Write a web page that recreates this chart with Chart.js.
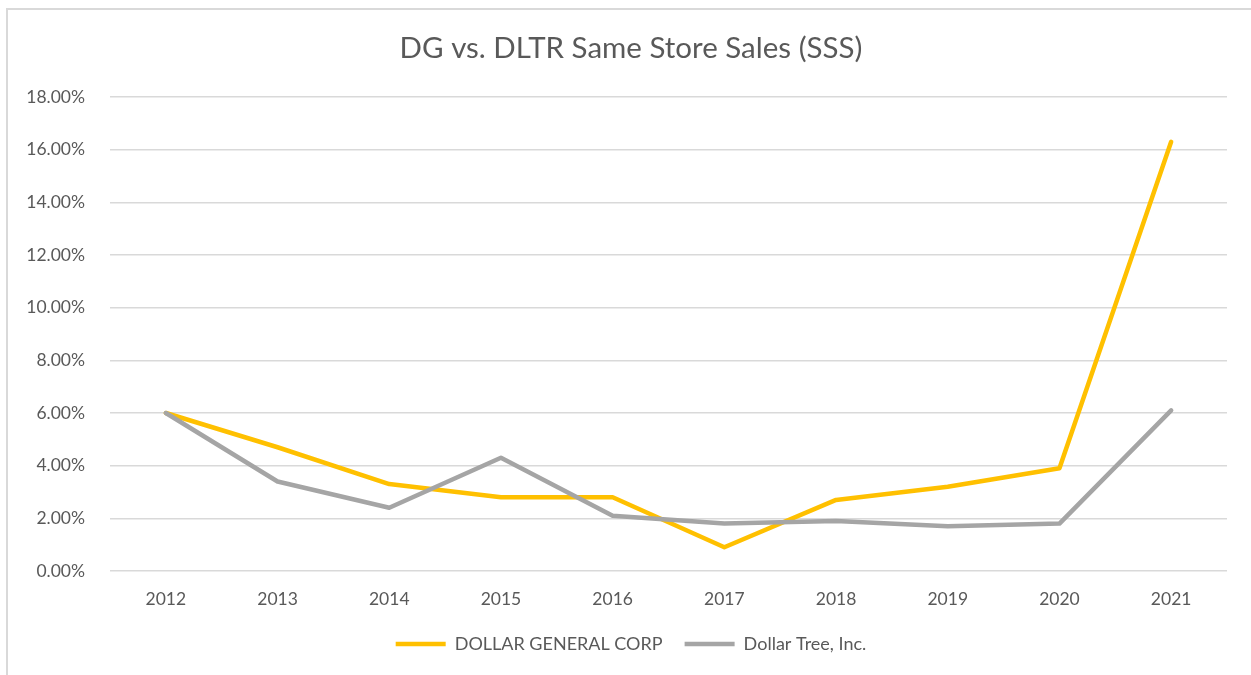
<!DOCTYPE html>
<html>
<head>
<meta charset="utf-8">
<script src="https://cdn.jsdelivr.net/npm/chart.js@4/dist/chart.umd.min.js"></script>
<style>
    html, body { margin: 0; padding: 0; background: #fff; overflow: hidden; }
    #frame {
        position: absolute; left: 6px; top: 8px; width: 1300px; height: 700px;
        border-left: 2px solid #D9D9D9; border-top: 2px solid #D9D9D9;
    }
    #wrap { position: absolute; left: 7px; top: 0; width: 1248px; height: 675px; }
</style>
</head>
<body>
<div id="frame"></div>
<div id="wrap"><canvas id="sssChart"></canvas></div>
<script>
// data
const years = ['2012', '2013', '2014', '2015', '2016', '2017', '2018', '2019', '2020', '2021'];
const dgSales = [6.0, 4.7, 3.3, 2.8, 2.8, 0.9, 2.7, 3.2, 3.9, 16.3];
const dltrSales = [6.0, 3.4, 2.4, 4.3, 2.1, 1.8, 1.9, 1.7, 1.8, 6.1];
const yMax = 18;
const yStep = 2;

const textColor = '#595959';
const gridColor = '#D9D9D9';
const fontFamily = 'Lato, "Open Sans", sans-serif';

document.addEventListener('DOMContentLoaded', () => {
    const ctx = document.getElementById('sssChart').getContext('2d');

    new Chart(ctx, {
        type: 'line',
        data: {
            labels: years,
            datasets: [{
                label: 'DOLLAR GENERAL CORP',
                data: dgSales,
                borderColor: '#FFC000',
                backgroundColor: '#FFC000',
                borderWidth: 4.5,
                borderJoinStyle: 'round',
                borderCapStyle: 'round',
                pointRadius: 0,
                pointStyle: 'line',
                order: 2
            }, {
                label: 'Dollar Tree, Inc.',
                data: dltrSales,
                borderColor: '#A5A5A5',
                backgroundColor: '#A5A5A5',
                borderWidth: 4.5,
                borderJoinStyle: 'round',
                borderCapStyle: 'round',
                pointRadius: 0,
                pointStyle: 'line',
                order: 1
            }]
        },
        options: {
            responsive: true,
            maintainAspectRatio: false,
            animation: false,
            layout: { padding: { top: 0, left: 0, right: 0, bottom: 12 } },
            plugins: {
                title: {
                    display: true,
                    text: 'DG vs. DLTR Same Store Sales (SSS)',
                    color: textColor,
                    font: { family: fontFamily, size: 29.5, weight: 'normal', lineHeight: 1.2 },
                    padding: { top: 30.3, bottom: 31.3 }
                },
                legend: {
                    position: 'bottom',
                    reverse: true,
                    labels: {
                        color: textColor,
                        font: { family: fontFamily, size: 18 },
                        usePointStyle: true,
                        pointStyleWidth: 50,
                        padding: 22
                    }
                },
                tooltip: { enabled: false }
            },
            scales: {
                x: {
                    offset: true,
                    grid: { display: false, drawTicks: false },
                    border: { display: false },
                    ticks: {
                        color: textColor,
                        font: { family: fontFamily, size: 17.5 },
                        padding: 18,
                        maxRotation: 0
                    },
                    afterFit: (scale) => {
                        scale.height = 42;
                        scale.paddingLeft = 0;
                        scale.paddingRight = 28;
                    }
                },
                y: {
                    min: 0,
                    max: yMax,
                    grid: { color: gridColor, lineWidth: 1.5, drawTicks: false },
                    border: { display: false },
                    ticks: {
                        stepSize: yStep,
                        color: textColor,
                        font: { family: fontFamily, size: 17.5 },
                        padding: 25,
                        callback: (v) => v.toFixed(2) + '%'
                    },
                    afterFit: (scale) => {
                        scale.width = 103;
                    }
                }
            }
        }
    });
});
</script>
</body>
</html>
